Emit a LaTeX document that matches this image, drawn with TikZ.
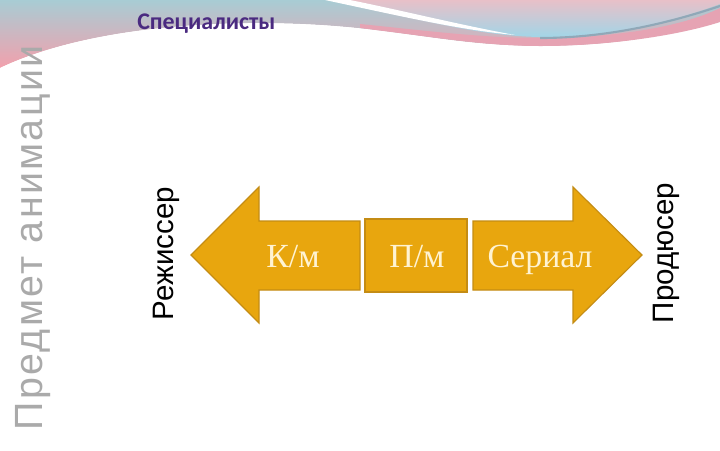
\documentclass[tikz,border=0pt]{standalone}
\usepackage{fontspec}
\newfontfamily\serifA{Liberation Serif}
\newfontfamily\sansA{Liberation Sans}
\newfontfamily\sansSpaced[LetterSpace=6]{Liberation Sans}
\newfontfamily\carlitoB{Carlito}
\definecolor{gold}{RGB}{232,166,14}
\definecolor{goldedge}{RGB}{196,140,20}
\definecolor{cream}{RGB}{255,243,210}
\definecolor{teal}{RGB}{168,204,212}
\definecolor{pinkA}{RGB}{242,160,172}
\definecolor{pinkB}{RGB}{230,163,179}
\definecolor{lensTop}{RGB}{232,192,200}
\definecolor{lensBot}{RGB}{160,214,232}
\definecolor{purpleT}{RGB}{74,42,128}
\definecolor{greyT}{RGB}{170,170,170}
\begin{document}
\begin{tikzpicture}[x=0.025cm,y=-0.025cm,
  arrowshape/.style={fill=gold,draw=goldedge,line width=0.8pt,line join=miter},
  boxlabel/.style={font=\serifA\fontsize{24}{28}\selectfont,text=cream,inner sep=0pt,anchor=base},
  sidelabel/.style={font=\sansA\fontsize{21}{25}\selectfont,text=black,inner sep=0pt,anchor=base,rotate=90}]
\useasboundingbox (0,0) rectangle (720,450);
\fill[white] (0,0) rectangle (720,450);
% decorative top band
\shade[top color=teal,bottom color=pinkA]
  (0,0) -- (720,0) -- (720,22) .. controls (650,40) and (600,46) .. (540,46)
  .. controls (450,46) and (400,28) .. (300,24) .. controls (200,20) and (80,30) .. (0,68) -- cycle;
\fill[white] (0,68) .. controls (80,30) and (200,20) .. (300,24) .. controls (400,28) and (450,46) .. (540,46)
  .. controls (600,46) and (650,40) .. (720,22) -- (720,60) -- (0,80) -- cycle;
\fill[pinkB] (360,28) .. controls (440,38) and (490,46) .. (540,46) .. controls (610,46) and (680,35) .. (720,22)
  -- (720,8) .. controls (680,28) and (610,38) .. (540,38) .. controls (480,38) and (420,30) .. (360,24) -- cycle;
\shade[top color=lensTop,bottom color=lensBot]
  (330,0) .. controls (420,20) and (480,36) .. (540,37) .. controls (620,38) and (690,15) .. (720,4) -- (720,0) -- cycle;
\draw[color={rgb,255:red,144;green,168;blue,184},line width=1.5pt]
  (540,38) .. controls (620,38) and (690,16) .. (720,6);
\fill[white] (325,0) .. controls (400,16) and (460,30) .. (515,35) .. controls (460,25) and (400,10) .. (350,0) -- cycle;
% left arrow
\path[arrowshape] (191,255) -- (259,187) -- (259,221) -- (360,221) -- (360,290) -- (259,290) -- (259,323) -- cycle;
% middle box
\node[arrowshape,minimum width=102*0.025cm,minimum height=73*0.025cm,inner sep=0pt] (mid) at (416,255.5) {};
% right arrow
\path[arrowshape] (642,255) -- (573,187) -- (573,221) -- (473,221) -- (473,290) -- (573,290) -- (573,323) -- cycle;
% labels
\node[boxlabel] (km) at (293,267) {К/м};
\node[boxlabel] (pm) at (417,267) {П/м};
\node[boxlabel] (ser) at (540,267) {Сериал};
\node[sidelabel] (dir) at (173,253.5) {Режиссер};
\node[sidelabel] (prod) at (673,253) {Продюсер};
\node[font=\sansSpaced\fontsize{28}{32}\selectfont,text=greyT,inner sep=0pt,anchor=base,rotate=90] (subj) at (42,238) {Предмет анимации};
\node[font=\carlitoB\bfseries\fontsize{17}{20}\selectfont,text=purpleT,inner sep=0pt,anchor=base west] (spec) at (137,29) {Специалисты};
\end{tikzpicture}
\end{document}
